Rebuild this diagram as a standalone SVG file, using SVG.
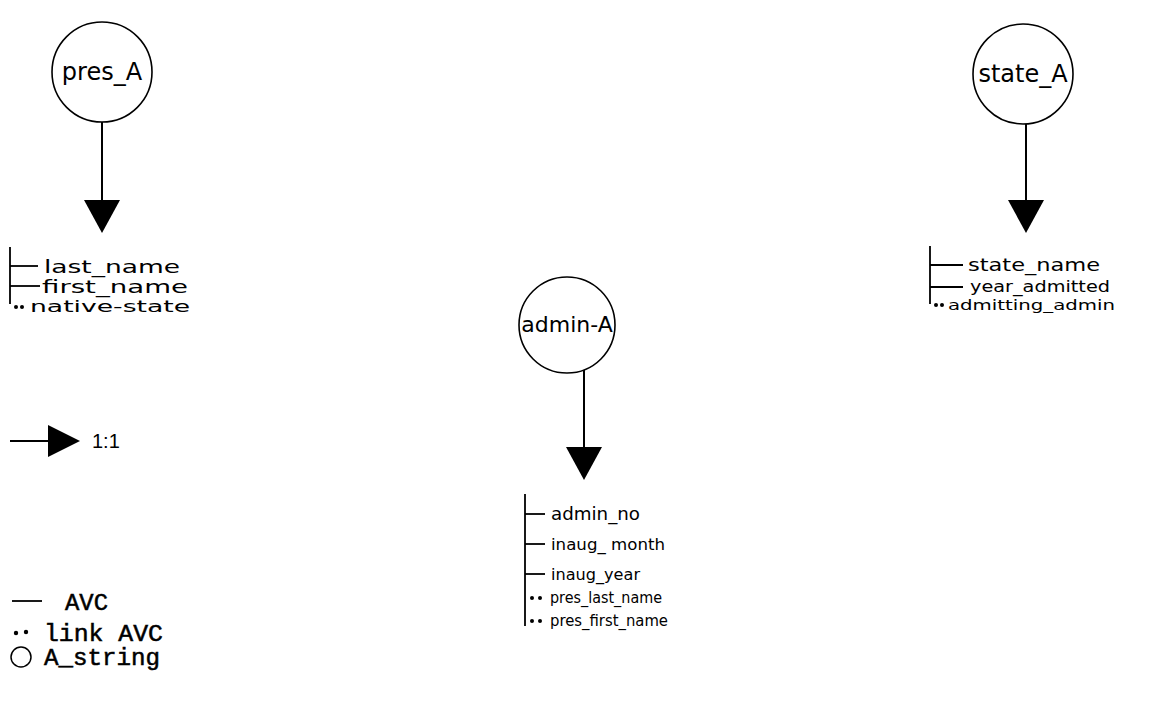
<svg xmlns="http://www.w3.org/2000/svg" width="1150" height="704" viewBox="0 0 1150 704">
<style>
.node{fill:#fff;stroke:#000;stroke-width:1.6}
.hand{font-family:"DejaVu Sans","Noto Sans",sans-serif;fill:#000}
.lbl{font-size:24px;text-anchor:middle}
.attr{font-size:17px}
.edge{stroke:#000;stroke-width:2;fill:none}
.tick{stroke:#000;stroke-width:1.8;fill:none}
.mono{font-family:"Liberation Mono","DejaVu Sans Mono",monospace;font-size:23px;fill:#000;stroke:#000;stroke-width:0.5}
.dot{fill:#000}
</style>
<defs>
<path id="head" d="M-18,0 L18,0 L0,33 Z" fill="#000"/>
</defs>
<rect width="1150" height="704" fill="#fff"/>

<g id="pres_A">
<circle class="node" cx="102" cy="72" r="50"/>
<text class="hand lbl" x="102" y="80">pres_A</text>
</g>
<g id="pres_A_attrs">
<line class="tick" x1="10" y1="247" x2="10" y2="304"/>
<line class="tick" x1="10" y1="266" x2="38" y2="266"/>
<text class="hand attr" x="44" y="273" textLength="136" lengthAdjust="spacingAndGlyphs">last_name</text>
<line class="tick" x1="10" y1="286" x2="40" y2="286"/>
<text class="hand attr" x="42" y="293" textLength="146" lengthAdjust="spacingAndGlyphs">first_name</text>
<circle class="dot" cx="16" cy="307" r="2"/><circle class="dot" cx="22" cy="307" r="2"/>
<text class="hand attr" x="30" y="312" style="font-size:16px" textLength="160" lengthAdjust="spacingAndGlyphs">native-state</text>
</g>

<g id="state_A">
<circle class="node" cx="1023" cy="74" r="50"/>
<text class="hand lbl" x="1023" y="82">state_A</text>
</g>
<g id="state_A_attrs">
<line class="tick" x1="930" y1="246" x2="930" y2="304"/>
<line class="tick" x1="930" y1="265" x2="963" y2="265"/>
<text class="hand attr" x="968" y="271" textLength="132" lengthAdjust="spacingAndGlyphs">state_name</text>
<line class="tick" x1="930" y1="287" x2="963" y2="287"/>
<text class="hand attr" x="970" y="292" style="font-size:15px" textLength="140" lengthAdjust="spacingAndGlyphs">year_admitted</text>
<circle class="dot" cx="936" cy="305" r="2"/><circle class="dot" cx="942" cy="305" r="2"/>
<text class="hand attr" x="948" y="310" style="font-size:14px" textLength="167" lengthAdjust="spacingAndGlyphs">admitting_admin</text>
</g>

<g id="admin_A">
<circle class="node" cx="567" cy="325" r="48"/>
<text class="hand lbl" x="567" y="332" style="font-size:22px">admin-A</text>
</g>
<g id="admin_A_attrs">
<line class="tick" x1="525" y1="494" x2="525" y2="626"/>
<line class="tick" x1="525" y1="514" x2="545" y2="514"/>
<text class="hand attr" x="551" y="520" textLength="89" lengthAdjust="spacingAndGlyphs">admin_no</text>
<line class="tick" x1="525" y1="544" x2="545" y2="544"/>
<text class="hand attr" x="551" y="550" style="font-size:15px" textLength="114" lengthAdjust="spacingAndGlyphs">inaug_ month</text>
<line class="tick" x1="525" y1="574" x2="545" y2="574"/>
<text class="hand attr" x="551" y="580" style="font-size:15px" textLength="89" lengthAdjust="spacingAndGlyphs">inaug_year</text>
<circle class="dot" cx="532" cy="598" r="2"/><circle class="dot" cx="540" cy="598" r="2"/>
<text class="hand attr" x="550" y="603" style="font-size:15px" textLength="112" lengthAdjust="spacingAndGlyphs">pres_last_name</text>
<circle class="dot" cx="532" cy="621" r="2"/><circle class="dot" cx="540" cy="621" r="2"/>
<text class="hand attr" x="550" y="626" style="font-size:15px" textLength="118" lengthAdjust="spacingAndGlyphs">pres_first_name</text>
</g>

<g id="connectors">
<line class="edge" x1="102" y1="122" x2="102" y2="202"/>
<use href="#head" x="102" y="200"/>
<line class="edge" x1="1026" y1="124" x2="1026" y2="202"/>
<use href="#head" x="1026" y="200"/>
<line class="edge" x1="584" y1="370" x2="584" y2="449"/>
<use href="#head" x="584" y="447"/>
</g>

<g id="legend">
<line class="edge" x1="10" y1="441" x2="50" y2="441"/>
<path d="M48,425 L48,457 L80,441 Z" fill="#000"/>
<text x="92" y="448" style="font-family:'Liberation Sans',Arial,sans-serif;font-size:20px">1:1</text>
<line class="tick" x1="12" y1="601" x2="42" y2="601"/>
<text class="mono" x="65" y="610" textLength="43" lengthAdjust="spacingAndGlyphs">AVC</text>
<circle class="dot" cx="16" cy="633" r="2.2"/><circle class="dot" cx="26" cy="632" r="2.2"/>
<text class="mono" x="44" y="641" textLength="119" lengthAdjust="spacingAndGlyphs">link AVC</text>
<circle cx="21" cy="657" r="10" fill="none" stroke="#000" stroke-width="1.5"/>
<text class="mono" x="44" y="665" textLength="116" lengthAdjust="spacingAndGlyphs">A_string</text>
</g>
</svg>
